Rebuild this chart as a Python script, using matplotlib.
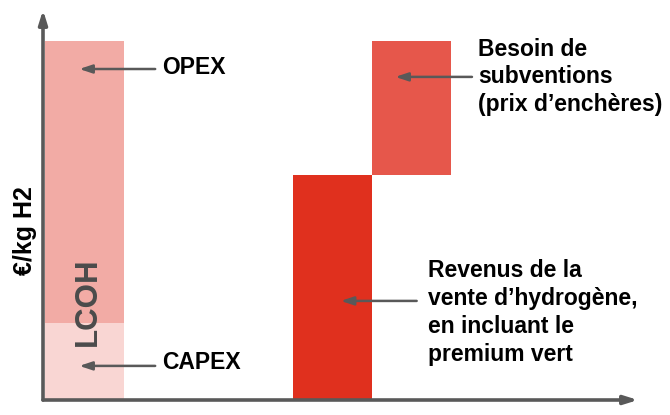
import matplotlib
matplotlib.use('Agg')
import matplotlib.pyplot as plt

plt.rcParams['font.family'] = ['Liberation Sans', 'DejaVu Sans']
plt.rcParams['font.weight'] = 'bold'

# data (arbitrary units, LCOH = 10)
capex = 2.15
opex = 7.85
revenue = 6.27
subsidy = 3.73

col_capex = '#F9D6D3'
col_opex = '#F2ABA5'
col_revenue = '#E0301E'
col_subsidy = '#E6574B'
grey = '#595959'

fig = plt.figure(figsize=(6.7, 4.15), dpi=100)
# axis origin at (43, 400) px, top-right at (638, 10) px
ax = fig.add_axes([43 / 670, 15 / 415, 595 / 670, 390 / 415])
ax.set_xlim(0, 595 / 79)
ax.set_ylim(0, 390 / 35.9)
ax.axis('off')

# bars
x_lcoh, x_rev, x_sub = 0.52, 3.66, 4.67
ax.bar(x_lcoh, capex, width=1.0, color=col_capex, linewidth=0)
ax.bar(x_lcoh, opex, width=1.0, bottom=capex, color=col_opex, linewidth=0)
ax.bar(x_rev, revenue, width=1.0, color=col_revenue, linewidth=0)
ax.bar(x_sub, subsidy, width=1.0, bottom=revenue, color=col_subsidy, linewidth=0)

# axes with arrowheads
ax.annotate('', xy=(0, 1), xytext=(0, 0), xycoords='axes fraction',
            arrowprops=dict(arrowstyle='-|>,head_length=0.8,head_width=0.25',
                            color=grey, lw=2.6, shrinkA=0, shrinkB=0))
ax.annotate('', xy=(1, 0), xytext=(0, 0), xycoords='axes fraction',
            arrowprops=dict(arrowstyle='-|>,head_length=0.8,head_width=0.25',
                            color=grey, lw=2.6, shrinkA=0, shrinkB=0))

ax.text(-0.03, 0.435, '€/kg H2', transform=ax.transAxes, rotation=90,
        ha='center', va='center', fontsize=18, color='black')
ax.text(x_lcoh + 0.05, 2.75, 'LCOH', rotation=90, ha='center', va='center',
        fontsize=22.5, color='#4B4B4B')

def pointer(txt, tip, tail, text_xy, ls=1.27):
    ax.annotate('', xy=tip, xytext=tail,
                arrowprops=dict(arrowstyle='-|>,head_length=0.75,head_width=0.25',
                                color=grey, lw=1.8, shrinkA=0, shrinkB=0))
    ax.text(text_xy[0], text_xy[1], txt, ha='left', va='center', fontsize=16.5,
            color='black', linespacing=ls)

pointer('OPEX', (0.46, 9.22), (1.42, 9.22), (1.51, 9.25))
pointer('CAPEX', (0.46, 0.95), (1.42, 0.95), (1.51, 1.05))
pointer('Besoin de\nsubventions\n(prix d\u2019enchères)', (4.46, 9.0), (5.43, 9.0),
        (5.51, 9.0))
pointer('Revenus de la\nvente d\u2019hydrogène,\nen incluant le\npremium vert',
        (3.77, 2.76), (4.73, 2.76), (4.87, 2.44))

fig.savefig('out.png', dpi=100)
